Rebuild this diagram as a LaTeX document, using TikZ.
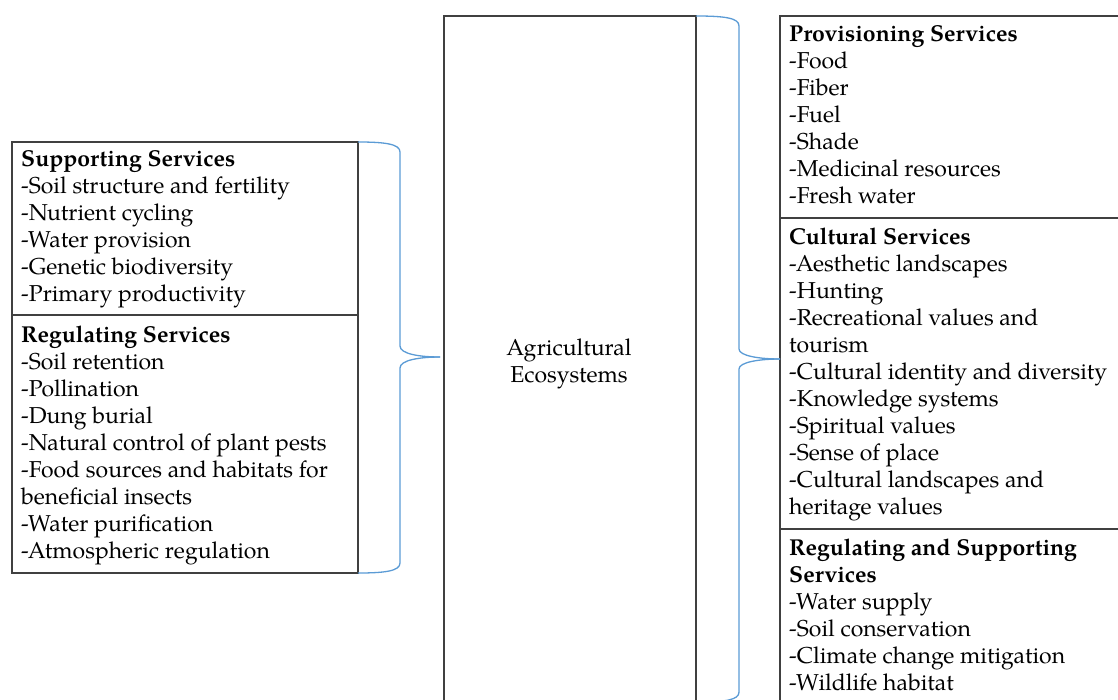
\documentclass[tikz,border=0pt]{standalone}
\usepackage{fontspec}
\setmainfont{TeX Gyre Pagella}
\definecolor{bracecol}{RGB}{91,155,213}
\definecolor{boxcol}{RGB}{64,64,64}
\begin{document}
\begin{tikzpicture}[x=1pt,y=-1pt,
  box/.style={draw=boxcol,line width=1.2pt,inner sep=0pt,outer sep=0pt},
  txt/.style={anchor=north west,inner sep=0pt,align=left,font=\fontsize{23}{27}\selectfont},
  ctxt/.style={anchor=north,inner sep=0pt,align=center,font=\fontsize{23}{27}\selectfont},
  brace/.style={draw=bracecol,line width=1.3pt}]
\useasboundingbox (0,0) rectangle (1118,699);
\clip (0,0) rectangle (1118,699);
% boxes
\node[box,minimum width=346pt,minimum height=173pt] (Lsup) at (185,228.5) {};
\node[box,minimum width=346pt,minimum height=258pt] (Lreg) at (185,444) {};
\node[box,minimum width=252pt,minimum height=704pt] (C) at (570,368) {};
\node[box,minimum width=350pt,minimum height=202pt] (Rprov) at (955,117) {};
\node[box,minimum width=350pt,minimum height=311pt] (Rcult) at (955,373.5) {};
\node[box,minimum width=350pt,minimum height=191pt] (Rrs) at (955,624.5) {};
% texts
\node[txt] (tLsup) at (21,147.1) {\strut\textbf{Supporting Services}\\-Soil structure and fertility\\-Nutrient cycling\\-Water provision\\-Genetic biodiversity\\-Primary productivity};
\node[txt] (tLreg) at (21,323.1) {\strut\textbf{Regulating Services}\\-Soil retention\\-Pollination\\-Dung burial\\-Natural control of plant pests\\-Food sources and habitats for\\beneficial insects\\-Water purification\\-Atmospheric regulation};
\node[ctxt] (tC) at (569,336.1) {\strut Agricultural\\Ecosystems};
\node[txt] (tRprov) at (789,22.6) {\strut\textbf{Provisioning Services}\\-Food\\-Fiber\\-Fuel\\-Shade\\-Medicinal resources\\-Fresh water};
\node[txt] (tRcult) at (789,225.1) {\strut\textbf{Cultural Services}\\-Aesthetic landscapes\\-Hunting\\-Recreational values and\\tourism\\-Cultural identity and diversity\\-Knowledge systems\\-Spiritual values\\-Sense of place\\-Cultural landscapes and\\heritage values};
\node[txt] (tRrs) at (789,536.1) {\strut\textbf{Regulating and Supporting}\\\textbf{Services}\\-Water supply\\-Soil conservation\\-Climate change mitigation\\-Wildlife habitat};
% brace tips
\coordinate (lt) at (440,357);
\coordinate (rt) at (780,359);
\coordinate (rb) at (698,702);
% left brace
\draw[brace] (Lsup.north east) .. controls (385,142) and (400,144) .. (400,152) -- (400,346) .. controls (400,354) and (420,357) .. (lt);
\draw[brace] (lt) .. controls (420,357) and (400,360) .. (400,368) -- (400,563) .. controls (400,571) and (385,573) .. (Lreg.south east);
% right brace
\draw[brace] (C.north east) .. controls (725,16) and (739,18) .. (739,26) -- (739,349) .. controls (739,356) and (760,359) .. (rt);
\draw[brace] (rt) .. controls (760,359) and (739,362) .. (739,369) -- (739,692) .. controls (739,700) and (725,702) .. (rb);
\end{tikzpicture}
\end{document}
